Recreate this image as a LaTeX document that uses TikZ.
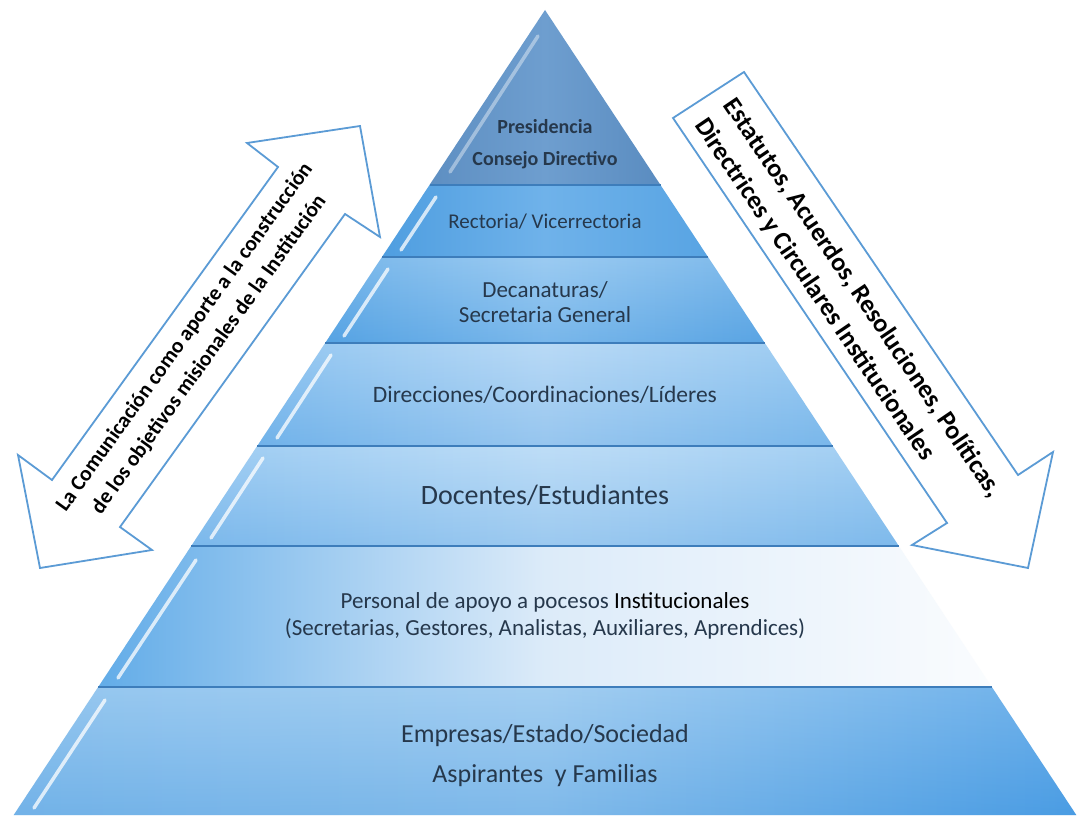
\documentclass[tikz,border=0pt]{standalone}
\usepackage{fontspec}
\setmainfont{Carlito}
\usetikzlibrary{calc}
\definecolor{edgeblue}{HTML}{5B9BD5}
\definecolor{txtc}{HTML}{26384C}
\definecolor{sepc}{HTML}{3D7DBB}
\definecolor{aL}{HTML}{5E8FC2}\definecolor{aM}{HTML}{6E9ECF}\definecolor{aR}{HTML}{5A8CC0}
\definecolor{bL}{HTML}{4F9EE0}\definecolor{bM}{HTML}{6FB2EA}\definecolor{bR}{HTML}{58A4E3}
\definecolor{cL}{HTML}{5AA7E6}\definecolor{cM}{HTML}{86C0EF}\definecolor{cR}{HTML}{5FA9E6}
\definecolor{dL}{HTML}{7BBAEE}\definecolor{dM}{HTML}{AAD2F4}\definecolor{dR}{HTML}{86C0EF}
\definecolor{eL}{HTML}{88C1F0}\definecolor{eM}{HTML}{B0D6F5}\definecolor{eR}{HTML}{8CC3F0}
\definecolor{fL}{HTML}{62ACE8}\definecolor{fM}{HTML}{DCEBF9}\definecolor{fR}{HTML}{FAFCFE}
\definecolor{gL}{HTML}{7DBAEC}\definecolor{gM}{HTML}{8EC3EE}\definecolor{gR}{HTML}{4C9FE6}
\definecolor{shadeb}{HTML}{3F8FD8}
\begin{document}
\begin{tikzpicture}[x=1pt,y=-1pt,
  sepline/.style={draw=sepc,line width=1.6pt},
  hl/.style={draw=white,line width=3.5pt,line cap=round,opacity=0.75},
  vshade/.style={top color=white,bottom color=shadeb,opacity=0.18},
  arrowline/.style={draw=edgeblue,line width=1.8pt,fill=white,line join=miter},
  ltxt/.style={text=txtc,align=center,inner sep=0pt},
  arrtxt/.style={text=black,inner sep=0pt,font=\bfseries}
]
\useasboundingbox (0,0) rectangle (1081,818);
\fill[white] (0,0) rectangle (1081,818);

% pyramid coordinates
\coordinate (apex) at (545,10);
\coordinate (l1) at (429.5,185); \coordinate (r1) at (660.5,185);
\coordinate (l2) at (382,257);   \coordinate (r2) at (708,257);
\coordinate (l3) at (325.2,343); \coordinate (r3) at (764.8,343);
\coordinate (l4) at (257.2,446); \coordinate (r4) at (832.8,446);
\coordinate (l5) at (191.2,546); \coordinate (r5) at (898.8,546);
\coordinate (l6) at (98.2,687);  \coordinate (r6) at (991.8,687);
\coordinate (l7) at (13.7,815);  \coordinate (r7) at (1076.3,815);

% layers
\path[left color=aL,right color=aR,middle color=aM] (apex) -- (r1) -- (l1) -- cycle;
\path[left color=bL,right color=bR,middle color=bM] (l1) -- (r1) -- (r2) -- (l2) -- cycle;
\path[left color=cL,right color=cR,middle color=cM] (l2) -- (r2) -- (r3) -- (l3) -- cycle;
\path[left color=dL,right color=dR,middle color=dM] (l3) -- (r3) -- (r4) -- (l4) -- cycle;
\path[left color=eL,right color=eR,middle color=eM] (l4) -- (r4) -- (r5) -- (l5) -- cycle;
\path[left color=fL,right color=fR,middle color=fM] (l5) -- (r5) -- (r6) -- (l6) -- cycle;
\path[left color=gL,right color=gR,middle color=gM] (l6) -- (r6) -- (r7) -- (l7) -- cycle;
% soft vertical shading (lighter top, bluer bottom)
\path[vshade] (l2) -- (r2) -- (r3) -- (l3) -- cycle;
\path[vshade] (l3) -- (r3) -- (r4) -- (l4) -- cycle;
\path[vshade] (l4) -- (r4) -- (r5) -- (l5) -- cycle;
\path[vshade] (l6) -- (r6) -- (r7) -- (l7) -- cycle;

% layer separators
\draw[sepline] (l1) -- (r1);
\draw[sepline] (l2) -- (r2);
\draw[sepline] (l3) -- (r3);
\draw[sepline] (l4) -- (r4);
\draw[sepline] (l5) -- (r5);
\draw[sepline] (l6) -- (r6);

% bevel highlights
\coordinate (h1a) at (538,36);  \coordinate (h1b) at (450,172);
\coordinate (h2a) at (436,197); \coordinate (h2b) at (401,250);
\coordinate (h3a) at (388,269); \coordinate (h3b) at (344,336);
\coordinate (h4a) at (331,355); \coordinate (h4b) at (277,438);
\coordinate (h5a) at (263,458); \coordinate (h5b) at (211,538);
\coordinate (h6a) at (196,560); \coordinate (h6b) at (118,678);
\coordinate (h7a) at (105,700); \coordinate (h7b) at (34,808);
\draw[hl,opacity=0.4] (h1a) -- (h1b);
\draw[hl] (h2a) -- (h2b);
\draw[hl] (h3a) -- (h3b);
\draw[hl] (h4a) -- (h4b);
\draw[hl] (h5a) -- (h5b);
\draw[hl] (h6a) -- (h6b);
\draw[hl] (h7a) -- (h7b);

% layer texts
\node[ltxt,font=\bfseries\fontsize{20}{32}\selectfont] (t1) at (545,144) {Presidencia\\Consejo Directivo};
\node[ltxt,font=\fontsize{21}{25}\selectfont] (t2) at (545,222) {Rectoria/ Vicerrectoria};
\node[ltxt,font=\fontsize{23}{25}\selectfont] (t3) at (545,302) {Decanaturas/\\Secretaria General};
\node[ltxt,font=\fontsize{23.5}{26}\selectfont] (t4) at (545,395) {Direcciones/Coordinaciones/Líderes};
\node[ltxt,font=\fontsize{28}{30}\selectfont] (t5) at (545,495) {Docentes/Estudiantes};
\node[ltxt,font=\fontsize{23}{27}\selectfont] (t6) at (545,616) {Personal de apoyo a pocesos \textcolor{black}{Institucionales}\\(Secretarias, Gestores, Analistas, Auxiliares, Aprendices)};
\node[ltxt,font=\fontsize{26}{40}\selectfont] (t7) at (545,756) {Empresas/Estado/Sociedad\\Aspirantes~ y Familias};

% left double arrow
\coordinate (U) at (360,126);
\coordinate (UA) at (247,143);  \coordinate (UB) at (380,237);
\coordinate (UAi) at (278,167); \coordinate (UBi) at (345,214);
\coordinate (L) at (40,568);
\coordinate (LA) at (18,455);   \coordinate (LB) at (152,550);
\coordinate (LAi) at (52,480);  \coordinate (LBi) at (120,527);
\draw[arrowline] (U) -- (UB) -- (UBi) -- (LBi) -- (LB) -- (L) -- (LA) -- (LAi) -- (UAi) -- (UA) -- cycle;
\node[arrtxt,align=center,rotate=54.3,font=\bfseries\fontsize{21.5}{30}\selectfont] (ltext) at (197,346) {La Comunicación como aporte a la construcción\\de los objetivos misionales de la Institución};

% right arrow
\coordinate (T1) at (673,118);  \coordinate (T2) at (744,72);
\coordinate (I1) at (1018,475); \coordinate (H1) at (1053,452);
\coordinate (Tip) at (1028,568);
\coordinate (H2) at (912,545);  \coordinate (I2) at (947,523);
\draw[arrowline] (T1) -- (T2) -- (I1) -- (H1) -- (Tip) -- (H2) -- (I2) -- cycle;
\node[arrtxt,align=left,rotate=-55.8,font=\bfseries\fontsize{26}{35}\selectfont] (rtext) at (848,308) {Estatutos, Acuerdos, Resoluciones, Políticas,\\Directrices y Circulares Institucionales};
\end{tikzpicture}
\end{document}
